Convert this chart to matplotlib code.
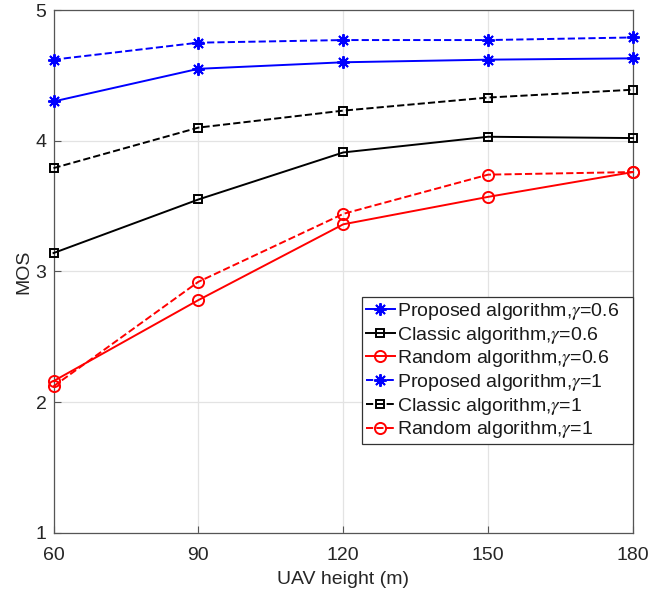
import matplotlib
matplotlib.use("Agg")
import matplotlib.pyplot as plt

plt.rcParams['font.family'] = ['Liberation Sans', 'DejaVu Sans']
plt.rcParams['mathtext.fontset'] = 'stix'

# UAV height (m) on the x axis
heights = [60, 90, 120, 150, 180]

# MOS for each algorithm and gamma value
proposed_g06 = [4.30, 4.55, 4.60, 4.62, 4.63]
classic_g06 = [3.14, 3.55, 3.91, 4.03, 4.02]
random_g06 = [2.16, 2.78, 3.36, 3.57, 3.76]
proposed_g1 = [4.62, 4.75, 4.77, 4.77, 4.79]
classic_g1 = [3.79, 4.10, 4.23, 4.33, 4.39]
random_g1 = [2.12, 2.92, 3.44, 3.74, 3.76]

labels = [
    r'Proposed algorithm,$\gamma$=0.6',
    r'Classic algorithm,$\gamma$=0.6',
    r'Random algorithm,$\gamma$=0.6',
    r'Proposed algorithm,$\gamma$=1',
    r'Classic algorithm,$\gamma$=1',
    r'Random algorithm,$\gamma$=1',
]

fig = plt.figure(figsize=(6.51, 5.92), dpi=100)
ax = fig.add_axes([0.0822, 0.1002, 0.8902, 0.8829])

# asterisk marker: 8 spokes, like a '+' over an 'x'
asterisk = (8, 2, 0)
series = [
    (proposed_g06, 'b', '-', asterisk),
    (classic_g06, 'k', '-', 's'),
    (random_g06, 'r', '-', 'o'),
    (proposed_g1, 'b', '--', asterisk),
    (classic_g1, 'k', '--', 's'),
    (random_g1, 'r', '--', 'o'),
]
for (vals, col, ls, mk), lab in zip(series, labels):
    ms = 9 if mk == asterisk else (6 if mk == 's' else 8)
    ax.plot(heights, vals, color=col, linestyle=ls, marker=mk, markersize=ms,
            markerfacecolor='none', markeredgecolor=col, markeredgewidth=1.4,
            linewidth=1.4, label=lab, clip_on=False, zorder=3)

ax.set_xlim(60, 180)
ax.set_ylim(1, 5)
ax.set_xticks(heights)
ax.set_yticks([1, 2, 3, 4, 5])
ax.grid(True, color='#e3e3e3', linewidth=0.9)
ax.set_axisbelow(True)
for sp in ax.spines.values():
    sp.set_color('#555555')
    sp.set_linewidth(0.9)
ax.tick_params(direction='in', length=5, colors='#555555', labelcolor='#262626',
               labelsize=14, top=False, right=False)
ax.tick_params(axis='x', pad=10)
ax.tick_params(axis='y', pad=5)

ax.set_xlabel('UAV height (m)', fontsize=14, color='#262626', labelpad=5)
ax.set_ylabel('MOS', fontsize=14, color='#262626', labelpad=2)

# legend box stretched over the lower right part of the axes
leg = ax.legend(loc='upper left', bbox_to_anchor=(0.532, 0.174, 0.468, 0.277),
                mode='expand', borderaxespad=0,
                fontsize=14, frameon=True, fancybox=False, framealpha=1,
                edgecolor='#333333', handlelength=1.5, handletextpad=0.1,
                labelspacing=0.14, borderpad=0.2)
leg.get_frame().set_linewidth(0.9)
for t in leg.get_texts():
    t.set_color('#1a1a1a')

fig.savefig('out.png', dpi=100)
